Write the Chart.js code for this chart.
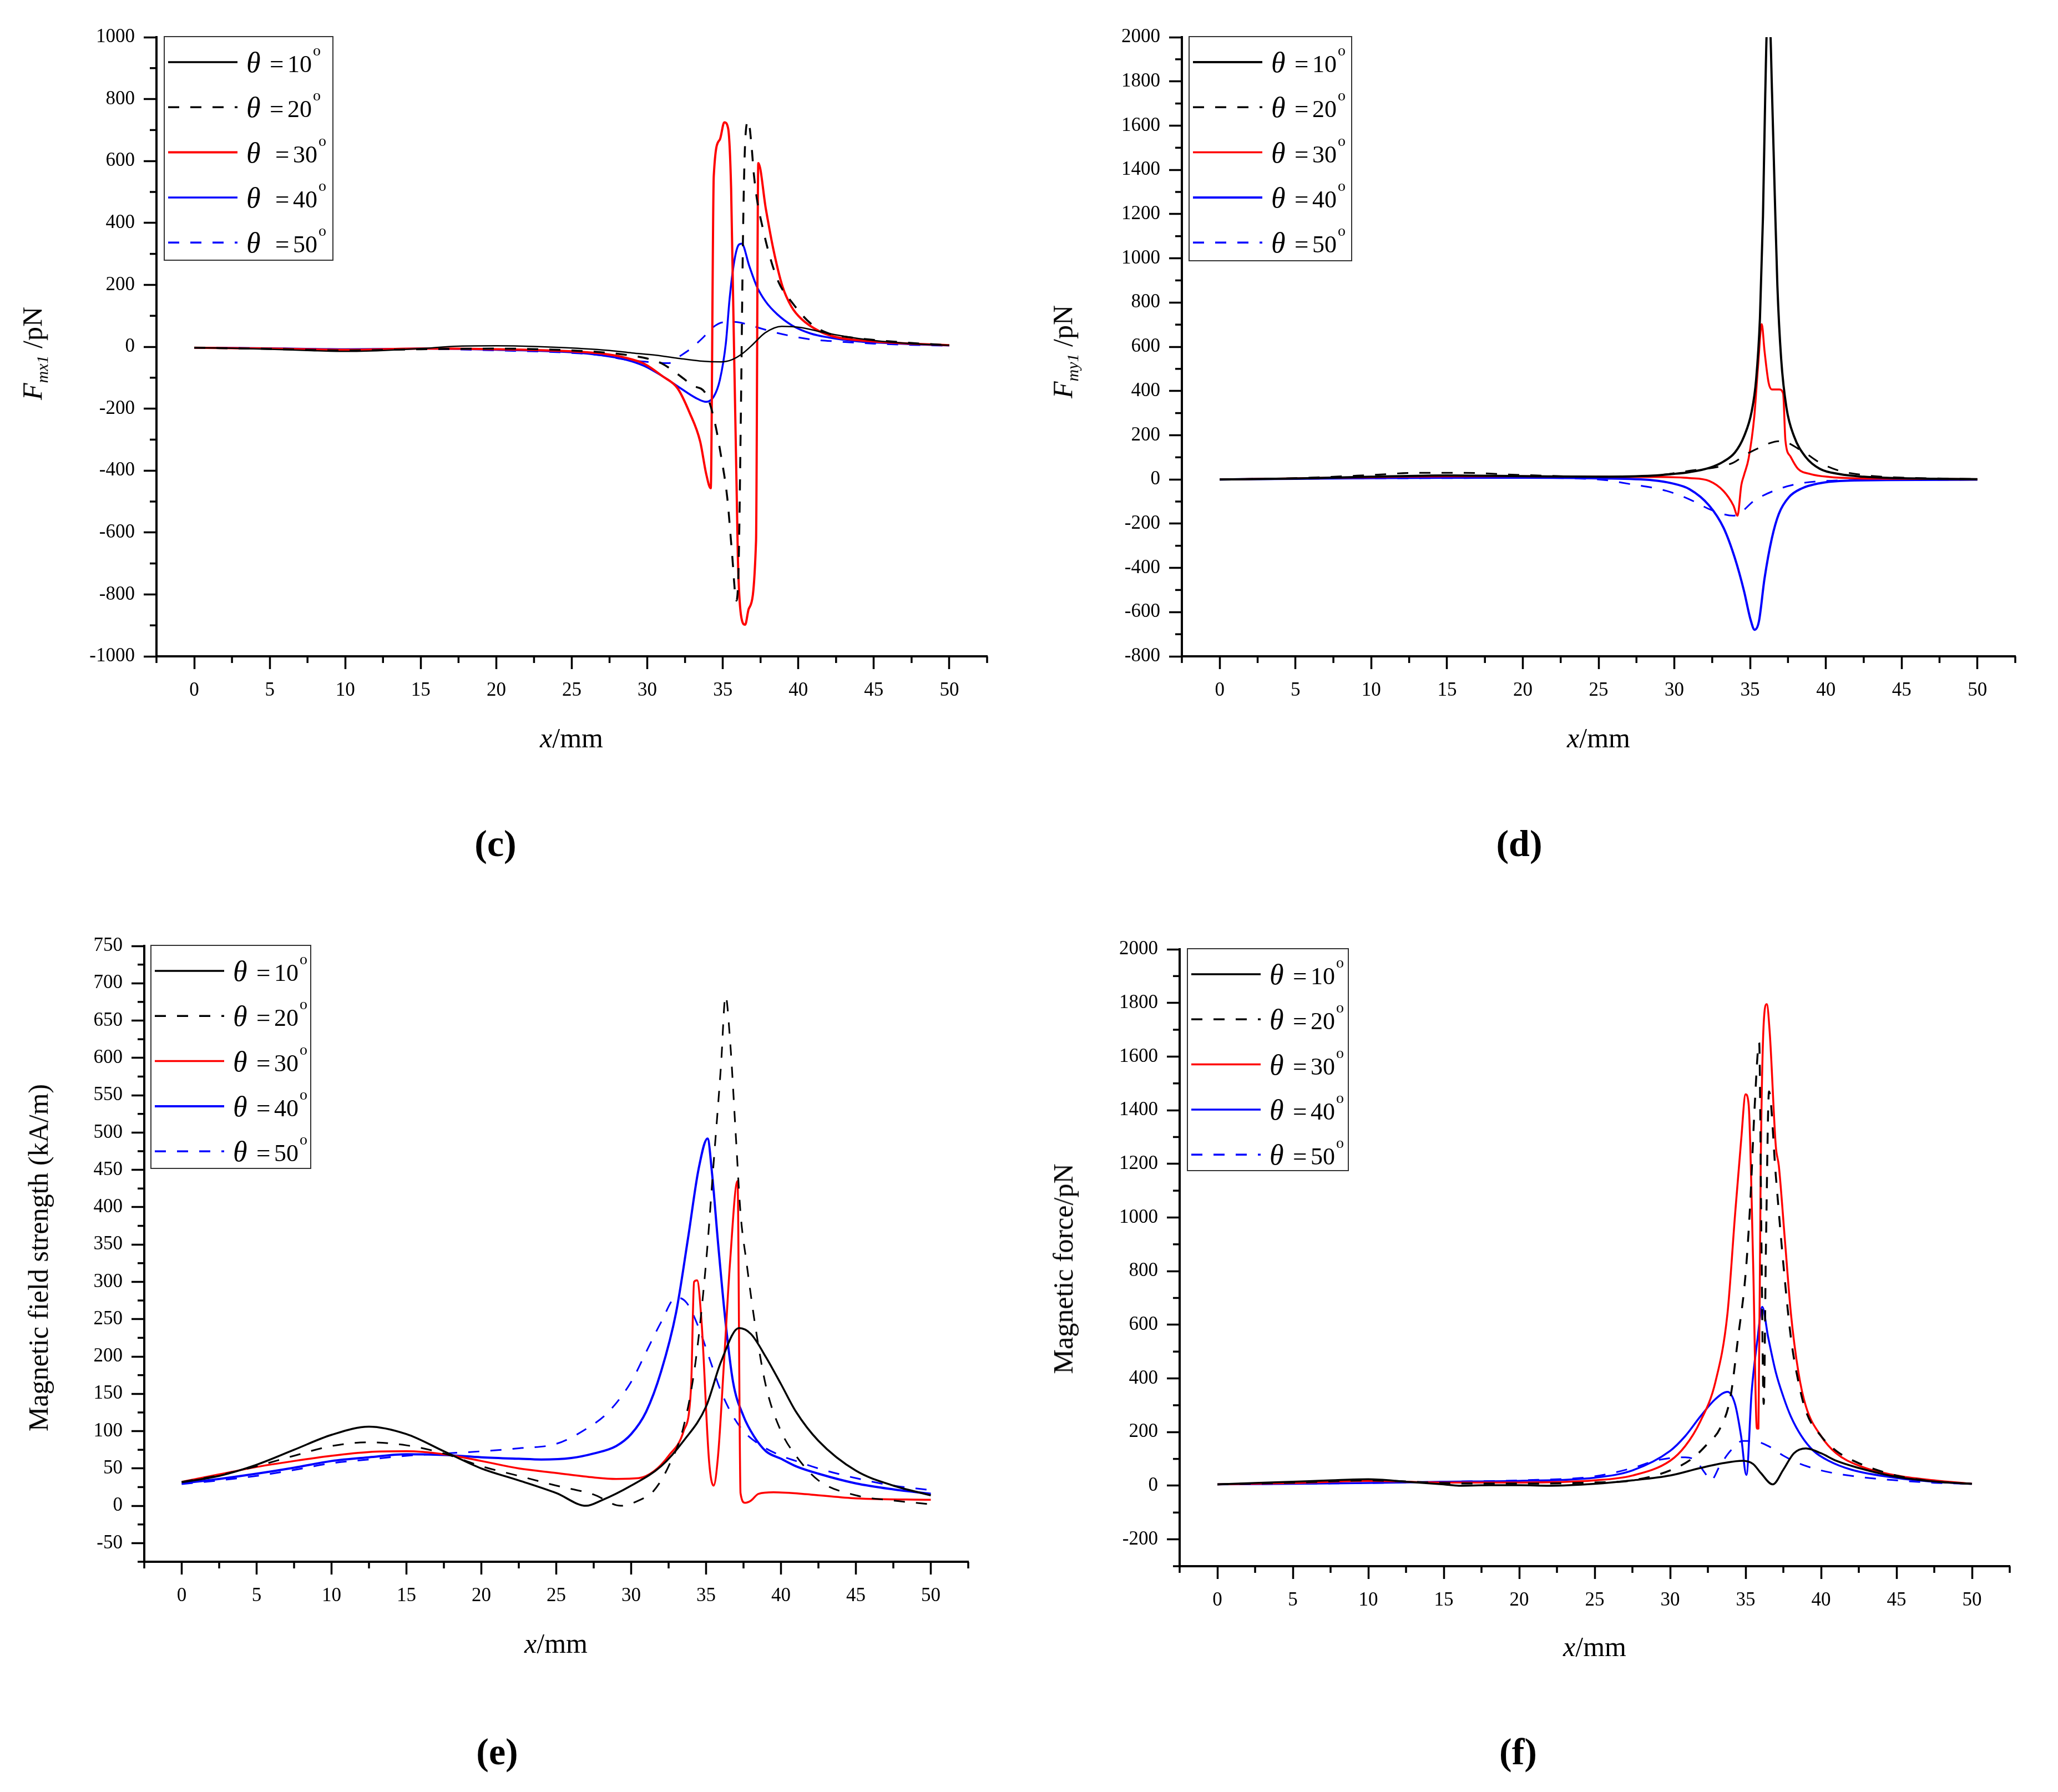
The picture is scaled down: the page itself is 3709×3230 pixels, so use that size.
<!DOCTYPE html>
<html><head><meta charset="utf-8">
<script src="https://cdn.jsdelivr.net/npm/chart.js@4.4.0/dist/chart.umd.min.js"></script>
<style>
html,body{margin:0;padding:0;background:#fff;}
body{width:3709px;height:3230px;position:relative;overflow:hidden;font-family:'Liberation Serif',serif;color:#000;}
canvas{position:absolute;}
.yt{position:absolute;white-space:nowrap;transform:translate(-50%,-50%) rotate(-90deg);font-size:50px;line-height:1;}
.xt{position:absolute;white-space:nowrap;transform:translate(-50%,-50%);font-size:50px;line-height:1;}
.pl{position:absolute;white-space:nowrap;transform:translate(-50%,-50%);font-size:68px;font-weight:bold;line-height:1;}
sub{font-size:0.6em;vertical-align:-0.35em;}
</style></head><body>
<canvas id="cc"></canvas><canvas id="cd"></canvas><canvas id="ce"></canvas><canvas id="cf"></canvas>
<div class="yt" style="left:62px;top:637px;"><i>F</i><sub><i>mx1</i></sub> /pN</div>
<div class="yt" style="left:1919px;top:634px;"><i>F</i><sub><i>my1</i></sub> /pN</div>
<div class="yt" style="left:69px;top:2267px;">Magnetic field strength (kA/m)</div>
<div class="yt" style="left:1916px;top:2287px;">Magnetic force/pN</div>
<div class="xt" style="left:1030px;top:1330px;"><i>x</i>/mm</div>
<div class="xt" style="left:2881px;top:1330px;"><i>x</i>/mm</div>
<div class="xt" style="left:1002px;top:2962px;"><i>x</i>/mm</div>
<div class="xt" style="left:2874px;top:2968px;"><i>x</i>/mm</div>
<div class="pl" style="left:893px;top:1520px;">(c)</div>
<div class="pl" style="left:2738px;top:1520px;">(d)</div>
<div class="pl" style="left:896px;top:3157px;">(e)</div>
<div class="pl" style="left:2736px;top:3157px;">(f)</div>
<script>
// ---------- tick values ----------
const xTicks = [0,5,10,15,20,25,30,35,40,45,50];
const xMinor = [-2.5,2.5,7.5,12.5,17.5,22.5,27.5,32.5,37.5,42.5,47.5,52.5];
const cYTicks = [-1000,-800,-600,-400,-200,0,200,400,600,800,1000];
const cYMinor = [-900,-700,-500,-300,-100,100,300,500,700,900];
const dYTicks = [-800,-600,-400,-200,0,200,400,600,800,1000,1200,1400,1600,1800,2000];
const dYMinor = [-700,-500,-300,-100,100,300,500,700,900,1100,1300,1500,1700,1900];
const eYTicks = [-50,0,50,100,150,200,250,300,350,400,450,500,550,600,650,700,750];
const eYMinor = [-75,-25,25,75,125,175,225,275,325,375,425,475,525,575,625,675,725];
const fYTicks = [-200,0,200,400,600,800,1000,1200,1400,1600,1800,2000];
const fYMinor = [-300,-100,100,300,500,700,900,1100,1300,1500,1700,1900];
const thetaValues = ['10','20','30','40','50'];

// ---------- panel (c) F_mx1 ----------
const cX10 = [0,2.5,5,7.5,10,12.5,15,17.5,20,22.5,25,27.5,29,30.5,32,33.5,34.9,35.6,36.3,37,37.8,38.9,40.2,41.5,43,45,47.5,50];
const cY10 = [-3,-5,-8,-12,-15,-12,-6,2,3,1,-4,-12,-20,-27,-37,-46,-49,-42,-22,8,45,66,62,48,34,20,10,5];
const cX20 = [0,5,10,15,20,25,27.5,29,30,31,32,33,33.9,34.45,34.9,35.3,35.6,35.9,36.05,36.2,36.35,36.5,36.69,36.9,37.05,37.25,37.6,38.1,38.7,39.6,40.8,42,43.5,45,47.5,50];
const cY20 = [-3,-7,-12,-8,-6,-12,-20,-29,-38,-55,-88,-125,-154,-240,-358,-490,-661,-820,-700,-200,400,680,729,650,560,480,393,294,208,142,76,43,30,22,12,5];
const cX30 = [0,5,10,15,20,25,27,28.6,29.8,31,32,32.8,33.5,33.9,34.2,34.4,34.8,35.1,35.35,35.55,36.0,36.2,36.48,36.72,37.2,37.35,37.85,38.35,38.95,39.55,40.2,41.4,42.6,44,45,47.5,50];
const cY30 = [-3,-6,-10,-6,-8,-15,-22,-36,-55,-95,-134,-213,-306,-411,-457,551,669,725,706,511,-688,-866,-898,-846,-628,593,445,314,195,129,90,50,30,21,17,10,5];
const cX40 = [0,5,10,15,20,25,27,28.6,29.8,31,32.2,33.2,33.9,34.4,34.8,35.2,35.45,35.75,36.05,36.25,36.75,37.25,37.85,38.6,39.55,40.8,42,44,45,47.5,50];
const cY40 = [-3,-5,-8,-6,-10,-18,-28,-42,-62,-95,-134,-165,-178,-161,-108,11,155,274,329,333,261,195,145,105,70,43,30,17,14,8,4];
const cX50 = [0,5,10,15,20,25,27,28.6,30,31.4,32.2,32.8,33.7,34.3,35.0,35.8,36.5,37.4,38.4,39.6,40.8,42.6,45,47.5,50];
const cY50 = [-3,-5,-8,-7,-12,-20,-28,-42,-49,-53,-29,-9,30,61,79,80,74,61,47,34,24,17,10,6,3];

// ---------- panel (d) F_my1 ----------
const dX10 = [0,5,10,15,20,25,28.6,29.8,31,32.3,33.25,34,34.6,35.1,35.4,35.65,35.85,36.0,36.13,36.3,36.45,36.63,36.8,37.05,37.4,37.9,38.65,39.6,40.9,42.5,44,47,50];
const dY10 = [0,4,12,18,15,12,17,24,33,52,81,122,195,306,453,729,1190,1742,2060,2060,1742,1282,877,545,324,195,103,48,24,12,7,3,1];
const dX20 = [0,5,10,13,16,20,25,28.6,31,32.9,33.9,34.7,35.5,36.2,36.9,37.4,38.15,38.8,39.6,40.9,42.5,44,47,50];
const dY20 = [0,6,20,30,30,20,12,17,39,57,76,112,140,162,173,168,140,112,76,39,20,11,5,2];
const dX30 = [0,5,10,15,20,25,28.6,31,32.3,33.25,33.9,34.17,34.42,34.6,34.9,35.28,35.52,35.77,35.95,36.22,36.44,36.93,37.18,37.33,37.67,38.16,39.0,40.25,42,44,47,50];
const dY30 = [0,5,10,14,14,12,11,6,-7,-53,-118,-164,-26,20,94,287,508,702,582,438,407,407,389,177,103,48,24,11,5,3,2,1];
const dX40 = [0,5,10,15,20,25,28.6,29.8,31,32.3,33.25,34,34.6,35.03,35.3,35.58,35.95,36.44,36.9,37.55,38.4,39.6,40.9,44,50];
const dY40 = [0,3,6,8,8,5,-4,-17,-44,-118,-219,-357,-505,-634,-680,-643,-449,-265,-155,-81,-41,-17,-7,-3,-1];
const dX50 = [0,5,10,15,20,25,27,29.5,31,32.5,33.9,35.4,36.9,38.4,40,42,45,50];
const dY50 = [0,3,5,6,7,0,-20,-52,-90,-140,-164,-90,-43,-17,-7,-3,-2,-1];

// ---------- panel (e) magnetic field strength ----------
const eX10 = [0,2.5,5,7.5,10,12.5,15,17.5,20,22.5,25,27,28,30,32,33.5,35,36,37.2,38,39,40,41,42.5,45,47.5,50];
const eY10 = [31.5,40,55,75,95,106,96,73,50,34,17,0,7,27,53,87,133,193,238,230,199,163,126,87,47,27,14];
const eX20 = [0,2.5,5,7.5,10,12.5,15,17.5,20,22.5,25,27.5,29.3,30.5,31.5,32.5,33.5,34.3,35,35.5,36,36.3,36.6,37,37.3,37.7,38.3,39,40,41,42.5,45,47.5,50];
const eY20 = [32,41,53,67,80,85,81,70,53,40,27,15,0,7,20,53,106,193,326,458,591,683,624,491,392,326,239,160,100,67,34,14,7,2];
const eX30 = [0,2.5,5,7.5,10,12.5,15,17.5,20,22.5,25,27.5,29,30.5,31.5,32.5,33.5,34,34.2,34.4,34.7,35.2,35.5,35.8,36.2,36.6,37.1,37.3,37.6,38,38.5,39.5,42,45,50];
const eY30 = [32,42,52,60,67,72,73,69,60,50,44,38,36,37,46,67,100,160,300,302,246,60,27,67,193,326,435,17,4,7,16,18,15,10,8];
const eX40 = [0,2.5,5,7.5,10,12.5,15,17.5,20,22.5,24,26,27.5,29,30,31,32,33,33.8,34.5,35.1,35.4,35.8,36.3,36.8,37.5,38.2,39,40,41,42.5,45,47.5,50];
const eY40 = [30,36,43,51,60,65,69,68,65,63,62,64,70,80,96,126,180,259,359,451,492,445,352,246,166,120,93,73,63,53,43,30,22,16];
const eX50 = [0,2.5,5,7.5,10,12.5,15,17.5,20,22.5,25,27,28.5,30,31,32,33,33.7,34.5,35.3,36,36.8,37.5,38.5,40,41,42.5,45,47.5,50];
const eY50 = [29,34,40,48,57,62,67,70,73,77,83,103,126,166,206,246,279,272,239,193,153,120,100,83,67,60,50,37,27,21];

// ---------- panel (f) magnetic force ----------
const fX10 = [0,5,7.5,10,12.5,15,16,18,20,22,25,27.5,30,32,33.5,34.8,35.5,36,36.8,37.5,38.2,39,40,41,42.5,45,47.5,50];
const fY10 = [5,15,20,24,15,5,0,2,2,0,7,20,38,66,84,93,81,48,5,60,121,139,121,93,66,33,16,7];
const fX20 = [0,5,10,15,20,25,27.5,30,31.5,32.5,33.3,34,34.5,35,35.3,35.6,35.9,36.05,36.2,36.35,36.55,37,37.5,38,38.5,39,40,41,42.5,45,47.5,50];
const fY20 = [5,12,20,10,8,12,20,57,103,158,213,332,552,790,1047,1413,1652,900,305,900,1470,1157,827,552,387,277,185,130,84,38,16,7];
const fX30 = [0,5,10,15,20,25,27.5,30,31,32,33,33.8,34.3,34.7,35.0,35.2,35.5,35.75,35.85,36.0,36.2,36.4,36.6,37.0,37.2,37.6,38,38.5,39,40,41,42.5,45,47.5,50];
const fY30 = [5,10,18,12,12,20,38,93,148,240,387,643,1010,1285,1459,1422,827,213,213,1193,1725,1795,1688,1266,1193,918,643,423,295,185,121,75,38,20,7];
const fX40 = [0,5,10,15,20,25,27.5,30,31,32,33,33.8,34.3,34.7,35.05,35.4,35.8,36.1,36.5,37,37.5,38,38.7,39.5,40.5,42,45,47.5,50];
const fY40 = [5,7,10,15,18,30,57,130,185,258,323,350,304,185,40,350,552,667,552,423,332,258,185,130,93,60,29,15,7];
const fX50 = [0,10,15,20,25,27.5,29,30,31,31.7,32.3,32.7,33.3,34,34.8,35.5,36.5,37.5,38.5,40,42.5,45,47.5,50];
const fY50 = [5,10,15,20,35,66,93,103,106,93,48,20,75,130,167,167,148,112,84,57,33,20,11,7];

// ---------- helpers ----------
function pts(xs, ys){ return xs.map((x,i)=>({x:x, y:ys[i]})); }

const minorTicks = {
  id:'minorTicks',
  afterDraw(chart, args, o){
    const ctx = chart.ctx, xs = chart.scales.x, ys = chart.scales.y;
    ctx.save(); ctx.strokeStyle = '#000'; ctx.lineWidth = o.width; ctx.setLineDash([]);
    (o.x||[]).forEach(v=>{ const p = xs.getPixelForValue(v); ctx.beginPath(); ctx.moveTo(p, xs.top); ctx.lineTo(p, xs.top + o.len); ctx.stroke(); });
    (o.y||[]).forEach(v=>{ const p = ys.getPixelForValue(v); ctx.beginPath(); ctx.moveTo(ys.right, p); ctx.lineTo(ys.right - o.len, p); ctx.stroke(); });
    ctx.restore();
  }
};

const thetaLegend = {
  id:'thetaLegend',
  afterDatasetsDraw(chart, args, o){
    const ctx = chart.ctx, ca = chart.chartArea;
    const x0 = ca.left + o.dx, y0 = ca.top - 1;
    ctx.save();
    ctx.fillStyle = '#fff'; ctx.fillRect(x0, y0, o.w, o.h);
    ctx.strokeStyle = '#333'; ctx.lineWidth = 2; ctx.setLineDash([]); ctx.strokeRect(x0, y0, o.w, o.h);
    chart.data.datasets.forEach((ds, i)=>{
      const ry = y0 + 46 + i*81.3;
      const sh = (o.shift && o.shift[i]) || 0;
      ctx.strokeStyle = ds.borderColor; ctx.lineWidth = Math.max(3.5, ds.borderWidth);
      ctx.setLineDash(ds.borderDash || []); ctx.lineCap = 'butt';
      ctx.beginPath(); ctx.moveTo(x0 + 7, ry); ctx.lineTo(x0 + 132, ry); ctx.stroke();
      ctx.setLineDash([]);
      ctx.fillStyle = '#000'; ctx.textBaseline = 'alphabetic'; ctx.textAlign = 'left';
      ctx.font = 'italic 52px "Liberation Serif"';
      ctx.fillText('\u03B8', x0 + 148, ry + 18);
      ctx.font = '45px "Liberation Serif"';
      ctx.fillText('=', x0 + 190 + sh, ry + 18);
      ctx.font = '44px "Liberation Serif"';
      const t = thetaValues[i];
      ctx.fillText(t, x0 + 222 + sh, ry + 18);
      const w = ctx.measureText(t).width;
      ctx.font = '28px "Liberation Serif"';
      ctx.fillText('o', x0 + 222 + sh + w + 2, ry - 12);
    });
    ctx.restore();
  }
};

const COLORS = ['#000000','#000000','#ff0000','#0000ff','#0000ff'];
const DASHES = [[],[20,20],[],[],[20,20]];

function makeChart(id, rect, yMin, yMax, yTicks, yMinorTicks, xsArr, ysArr, widths, legend){
  const padL = 80, yW = 150, padT = 40, padR = 40, xH = 100, padB = 60;
  const W = rect.R - rect.L + padL + yW + padR;
  const H = rect.B - rect.T + padT + xH + padB;
  const cv = document.getElementById(id);
  cv.width = W; cv.height = H;
  cv.style.width = W + 'px'; cv.style.height = H + 'px';
  cv.style.left = (rect.L - padL - yW) + 'px'; cv.style.top = (rect.T - padT) + 'px';
  const datasets = xsArr.map((xs, i)=>({
    label: '\u03B8 = ' + thetaValues[i] + '\u00B0',
    data: pts(xs, ysArr[i]),
    borderColor: COLORS[i], backgroundColor: COLORS[i],
    borderWidth: widths[i], borderDash: DASHES[i],
    borderJoinStyle: 'round', borderCapStyle: 'butt',
    pointRadius: 0, pointHoverRadius: 0, fill: false,
    cubicInterpolationMode: 'monotone'
  }));
  const tickFont = {family:'Liberation Serif', size:35};
  return new Chart(cv, {
    type: 'line',
    data: { datasets },
    options: {
      responsive: false, animation: false, devicePixelRatio: 1,
      layout: { padding: {left: padL, top: padT, right: padR, bottom: padB} },
      plugins: {
        legend: {display:false}, tooltip: {enabled:false},
        minorTicks: { x: xMinor, y: yMinorTicks, len: 12, width: 3.5 },
        thetaLegend: { shift: legend.shift, dx: legend.dx, w: legend.w, h: legend.h }
      },
      scales: {
        x: {
          type: 'linear', min: -2.5, max: 52.5,
          afterBuildTicks: s => { s.ticks = xTicks.map(v=>({value:v})); },
          afterFit: s => { s.height = xH; },
          grid: { display:true, drawOnChartArea:false, drawTicks:true, tickLength:23, tickWidth:3.5, tickColor:'#000', color:'#000' },
          border: { display:true, color:'#000', width:4 },
          ticks: { color:'#000', font: tickFont, padding: 18, autoSkip:false, maxRotation:0, callback: v => String(v) }
        },
        y: {
          type: 'linear', min: yMin, max: yMax,
          afterBuildTicks: s => { s.ticks = yTicks.map(v=>({value:v})); },
          afterFit: s => { s.width = yW; },
          grid: { display:true, drawOnChartArea:false, drawTicks:true, tickLength:23, tickWidth:3.5, tickColor:'#000', color:'#000' },
          border: { display:true, color:'#000', width:4 },
          ticks: { color:'#000', font: tickFont, padding: 16, autoSkip:false, callback: v => String(v) }
        }
      }
    },
    plugins: [minorTicks, thetaLegend]
  });
}

makeChart('cc', {L:282, T:67, R:1779, B:1183}, -1000, 1000, cYTicks, cYMinor,
  [cX10,cX20,cX30,cX40,cX50], [cY10,cY20,cY30,cY40,cY50], [2.5,3.5,4,3.5,3],
  {shift: [0,0,10,10,10], dx: 14, w: 304, h: 403});
makeChart('cd', {L:2130, T:67, R:3632, B:1183}, -800, 2000, dYTicks, dYMinor,
  [dX10,dX20,dX30,dX40,dX50], [dY10,dY20,dY30,dY40,dY50], [4,3,3.5,4,3],
  {shift: [0,0,0,0,0], dx: 13, w: 293, h: 404});
makeChart('ce', {L:260, T:1705, R:1745, B:2815}, -75, 750, eYTicks, eYMinor,
  [eX10,eX20,eX30,eX40,eX50], [eY10,eY20,eY30,eY40,eY50], [3.5,3,3.5,4,3],
  {shift: [0,0,0,0,0], dx: 12, w: 288, h: 402});
makeChart('cf', {L:2126, T:1711, R:3622, B:2823}, -300, 2000, fYTicks, fYMinor,
  [fX10,fX20,fX30,fX40,fX50], [fY10,fY20,fY30,fY40,fY50], [3.5,3.5,3.5,3.5,3],
  {shift: [0,0,0,0,0], dx: 14, w: 290, h: 400});
</script>
</body></html>
